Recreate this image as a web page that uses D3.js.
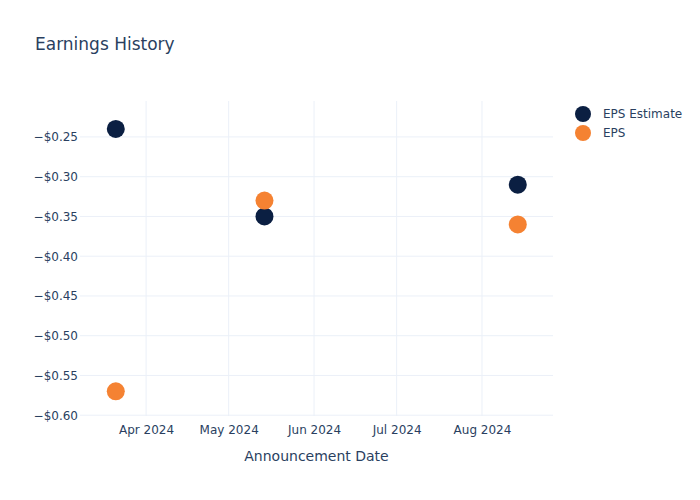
<!DOCTYPE html>
<html>
<head>
<meta charset="utf-8">
<script src="https://cdn.jsdelivr.net/npm/d3@7"></script>
<style>
  body { margin: 0; background: #fff; }
  svg { display: block; font-family: "DejaVu Sans", sans-serif; }
</style>
</head>
<body>
<div id="chart"></div>
<script>
const dates = ["2024-03-21", "2024-05-14", "2024-08-14"];
const epsEstimate = [-0.24, -0.35, -0.31];
const eps = [-0.57, -0.33, -0.36];
const yTicks = [-0.25, -0.30, -0.35, -0.40, -0.45, -0.50, -0.55, -0.60];
const xTicks = ["2024-04-01", "2024-05-01", "2024-06-01", "2024-07-01", "2024-08-01"];
const seriesNames = ["EPS Estimate", "EPS"];
const seriesColors = ["#0b1f42", "#f58232"];

const W = 700, H = 500;
const m = { left: 80, right: 147, top: 101, bottom: 84 };
const parse = d3.utcParse("%Y-%m-%d");
const textColor = "#2a3f5f";
const gridColor = "#ebf0f8";

const svg = d3.select("#chart").append("svg").attr("width", W).attr("height", H);

const x = d3.scaleUtc()
  .domain([new Date(Date.UTC(2024, 2, 8, 0)), new Date(Date.UTC(2024, 7, 26, 19))])
  .range([m.left, W - m.right]);
const y = d3.scaleLinear()
  .domain([-0.601, -0.2048])
  .range([H - m.bottom, m.top]);

// grid
const g = svg.append("g");
g.selectAll(".yg").data(yTicks).join("line")
  .attr("x1", m.left).attr("x2", W - m.right)
  .attr("y1", d => y(d)).attr("y2", d => y(d))
  .attr("stroke", gridColor).attr("stroke-width", 1);
g.selectAll(".xg").data(xTicks).join("line")
  .attr("x1", d => x(parse(d))).attr("x2", d => x(parse(d)))
  .attr("y1", m.top).attr("y2", H - m.bottom)
  .attr("stroke", gridColor).attr("stroke-width", 1);

// axes
const fmt = d => "\u2212$" + Math.abs(d).toFixed(2);
const yAxis = d3.axisLeft(y).tickValues(yTicks).tickFormat(fmt).tickSize(0).tickPadding(2);
const ya = svg.append("g").attr("transform", `translate(${m.left},0)`).call(yAxis);
ya.select(".domain").remove();
ya.selectAll("text").attr("fill", textColor).style("font-size", "12px").style("font-family", "DejaVu Sans");

const xAxis = d3.axisBottom(x).tickValues(xTicks.map(parse)).tickFormat(d3.utcFormat("%b %Y")).tickSize(0).tickPadding(9);
const xa = svg.append("g").attr("transform", `translate(0,${H - m.bottom})`).call(xAxis);
xa.select(".domain").remove();
xa.selectAll("text").attr("fill", textColor).style("font-size", "12px").style("font-family", "DejaVu Sans");

// points
const series = [epsEstimate, eps];
series.forEach((vals, i) => {
  svg.append("g").selectAll("circle").data(vals).join("circle")
    .attr("cx", (d, j) => x(parse(dates[j])))
    .attr("cy", d => y(d))
    .attr("r", 9)
    .attr("fill", seriesColors[i]);
});

// title
svg.append("text").attr("x", 35).attr("y", 50).text("Earnings History")
  .attr("fill", textColor).style("font-size", "17px");

// x axis title
svg.append("text").attr("x", (m.left + W - m.right) / 2).attr("y", 461)
  .attr("text-anchor", "middle").text("Announcement Date")
  .attr("fill", textColor).style("font-size", "14px");

// legend
const lg = svg.append("g");
seriesNames.forEach((n, i) => {
  const yy = 114 + i * 19;
  lg.append("circle").attr("cx", 583).attr("cy", yy).attr("r", 8).attr("fill", seriesColors[i]);
  lg.append("text").attr("x", 603).attr("y", yy + 4).text(n)
    .attr("fill", textColor).style("font-size", "12px");
});
</script>
</body>
</html>
